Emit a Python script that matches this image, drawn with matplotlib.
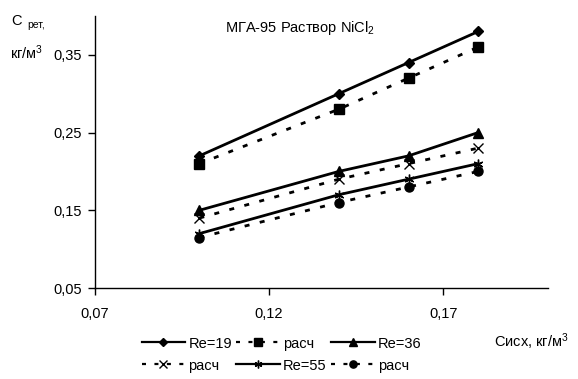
import matplotlib
matplotlib.use('Agg')
import matplotlib.pyplot as plt
from matplotlib.ticker import FixedLocator, FuncFormatter

plt.rcParams['font.family'] = ['Liberation Sans', 'DejaVu Sans']
plt.rcParams['mathtext.fontset'] = 'custom'
plt.rcParams['mathtext.rm'] = 'Liberation Sans'
plt.rcParams['mathtext.it'] = 'Liberation Sans'

# concentration of source solution, kg/m3
c_src = [0.10, 0.14, 0.16, 0.18]

# retained concentration, experiment and calculation
re19 = [0.22, 0.30, 0.34, 0.38]
re19_calc = [0.21, 0.28, 0.32, 0.36]
re36 = [0.15, 0.20, 0.22, 0.25]
re36_calc = [0.14, 0.19, 0.21, 0.23]
re55 = [0.12, 0.17, 0.19, 0.21]
re55_calc = [0.115, 0.16, 0.18, 0.20]

x_ticks = [0.07, 0.12, 0.17]
y_ticks = [0.05, 0.15, 0.25, 0.35]


def comma(v, pos):
    return ('%.2f' % v).replace('.', ',')


fig = plt.figure(figsize=(5.78, 3.79), dpi=100)
ax = fig.add_axes([0.164, 0.240, 0.784, 0.718])

solid = dict(color='black', lw=2.0, ls='-')
dash = dict(color='black', lw=2.0, dashes=(1.8, 3.8))

h1, = ax.plot(c_src, re19, marker='D', ms=5.5, label='Re=19', **solid)
h2, = ax.plot(c_src, re19_calc, marker='s', ms=6.5, label='расч', **dash)
h3, = ax.plot(c_src, re36, marker='^', ms=7, label='Re=36', **solid)
h4, = ax.plot(c_src, re36_calc, marker='x', ms=7, mew=1.0, label='расч', **dash)
h5, = ax.plot(c_src, re55, marker=(6, 2, 0), ms=7, mew=1.0, label='Re=55', **solid)
h6, = ax.plot(c_src, re55_calc, marker='o', ms=6.5, label='расч', **dash)

ax.set_xlim(0.07, 0.20)
ax.set_ylim(0.05, 0.40)
ax.xaxis.set_major_locator(FixedLocator(x_ticks))
ax.yaxis.set_major_locator(FixedLocator(y_ticks))
ax.xaxis.set_major_formatter(FuncFormatter(comma))
ax.yaxis.set_major_formatter(FuncFormatter(comma))
ax.tick_params(direction='out', length=5, width=1, labelsize=10.5, pad=4)
ax.tick_params(axis='x', pad=9)

for s in ['top', 'right']:
    ax.spines[s].set_visible(False)
for s in ['left', 'bottom']:
    ax.spines[s].set_linewidth(1.0)

# titles and axis labels
fig.text(0.39, 0.925, r'МГА-95 Раствор NiCl$_2$', fontsize=10.5, va='center')
fig.text(0.02, 0.945, 'С', fontsize=10.5, va='center')
fig.text(0.048, 0.935, 'рет,', fontsize=7.5, va='center')
fig.text(0.017, 0.862, r'кг/м$^3$', fontsize=10.5, va='center')
fig.text(0.855, 0.098, r'Сисх, кг/м$^3$', fontsize=10.5, va='center')

# legend filled column-wise -> reorder so rows read like the original
handles = [h1, h4, h2, h5, h3, h6]
leg = fig.legend(handles=handles, labels=[h.get_label() for h in handles],
                 ncol=3, loc='upper left', bbox_to_anchor=(0.245, 0.112),
                 frameon=False, fontsize=10.5, handlelength=3.0,
                 handletextpad=0.2, columnspacing=0.3, labelspacing=0.55,
                 borderpad=0, borderaxespad=0, markerscale=0.8)
for line in leg.get_lines():
    line.set_linewidth(1.6)

fig.savefig('out.png', dpi=100)
